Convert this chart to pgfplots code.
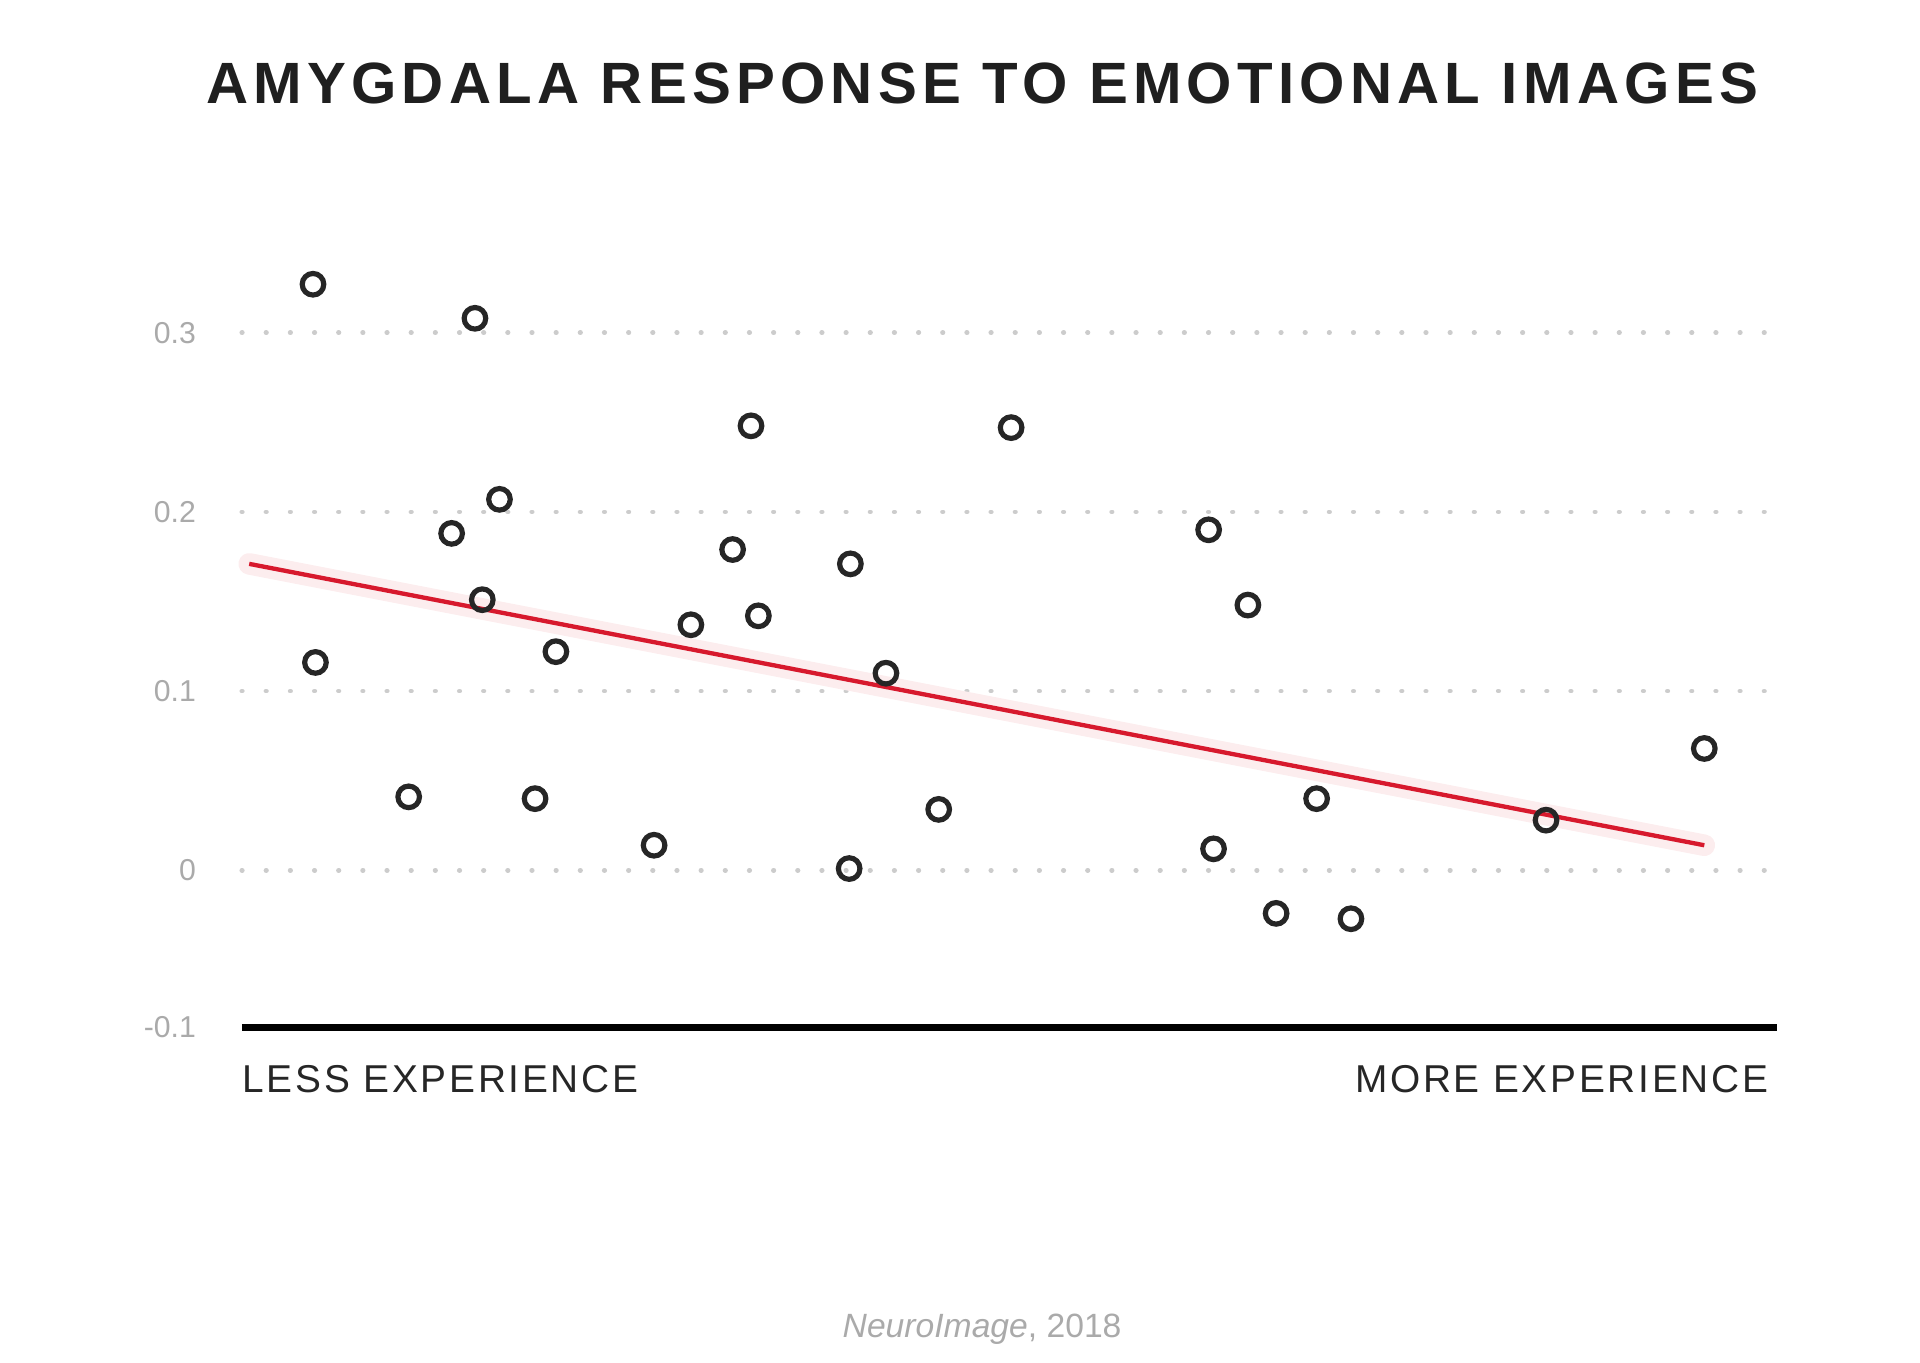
\documentclass[border=0pt]{standalone}
\usepackage{pgfplots}
\pgfplotsset{compat=1.18}
\usepackage{fontspec}
\setmainfont{Liberation Sans}
\newfontfamily\titlefont[LetterSpace=9]{Liberation Sans}
\newfontfamily\labfont[LetterSpace=7]{Liberation Sans}
\definecolor{tickgray}{RGB}{170,170,170}
\definecolor{linered}{RGB}{215,25,45}
\begin{document}
\begin{tikzpicture}
\path[use as bounding box] (-1.97cm,-2.73cm) rectangle (13.67cm,8.37cm);
\begin{axis}[
  x=0.01cm, y=14.6cm,
  xmin=197, xmax=1448, ymin=-0.0877, ymax=0.35,
  axis line style={draw=none},
  xtick=\empty,
  ytick={-0.0877,0,0.1,0.2,0.3},
  yticklabels={-0.1,0,0.1,0.2,0.3},
  major tick length=0pt,
  yticklabel style={font=\fontsize{7}{9}\selectfont, text=tickgray, xshift=-0.25cm},
  /pgf/number format/assume math mode=true,
  clip=false,
]
\foreach \yy in {0,0.1,0.2,0.3}{
  \edef\tmp{\noexpand\draw[tickgray!60, line width=1.1pt, dash pattern=on 0.1pt off 5.5pt, line cap=round] (axis cs:197,\yy) -- (axis cs:1440,\yy);}\tmp
}
\draw[line width=1.8pt] (rel axis cs:0,0) -- (rel axis cs:1,0);
\addplot[line width=5pt, color=linered!8, line cap=round] coordinates {(203,0.171) (1389,0.014)};
\addplot[line width=1pt, color=linered] coordinates {(203,0.171) (1389,0.014)};
\addplot[only marks, mark=o, mark size=2.5pt, mark options={line width=1.2pt, draw=black!85}] coordinates {
(255,0.327) (387,0.308) (612,0.248) (824,0.247) (407,0.207) (368,0.188)
(985,0.190) (597,0.179) (693,0.171) (393,0.151) (1017,0.148) (618,0.142)
(563,0.137) (453,0.122) (257,0.116) (722,0.110) (1389,0.068) (333,0.041)
(436,0.040) (1073,0.040) (765,0.034) (1260,0.028) (533,0.014) (989,0.012)
(692,0.001) (1040,-0.024) (1101,-0.027)
};
\end{axis}
\node[anchor=west, inner sep=0pt, font=\labfont\fontsize{9}{11}\selectfont, text=black!85] at (0,-0.42cm) {LESS EXPERIENCE};
\node[anchor=east, inner sep=0pt, font=\labfont\fontsize{9}{11}\selectfont, text=black!85] at (12.44cm,-0.42cm) {MORE EXPERIENCE};
\node[font=\titlefont\bfseries\fontsize{13.5}{16}\selectfont, text=black!88] at (6.03cm,7.69cm) {AMYGDALA RESPONSE TO EMOTIONAL IMAGES};
\node[font=\fontsize{7.8}{10}\selectfont, text=tickgray] at (6.03cm,-2.46cm) {\textit{NeuroImage}, 2018};
\end{tikzpicture}
\end{document}
